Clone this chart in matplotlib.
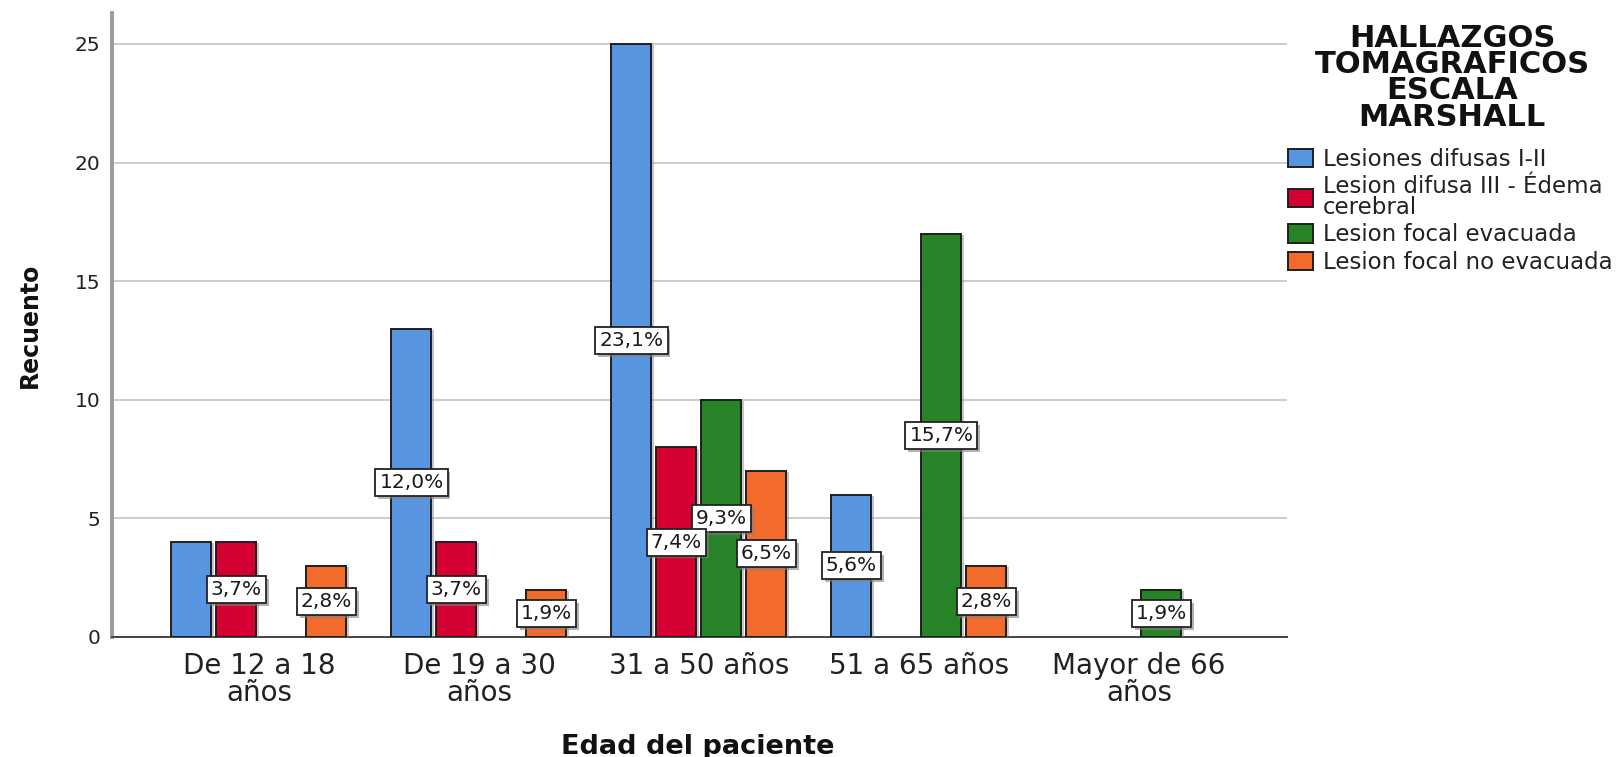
import numpy as np
import matplotlib
matplotlib.use("Agg")
import matplotlib.pyplot as plt
from matplotlib import patheffects as pe

plt.rcParams["font.family"] = ["DejaVu Sans"]

age_groups = ["De 12 a 18\naños", "De 19 a 30\naños", "31 a 50 años",
              "51 a 65 años", "Mayor de 66\naños"]
series_names = ["Lesiones difusas I-II", "Lesion difusa III - Édema\ncerebral",
                "Lesion focal evacuada", "Lesion focal no evacuada"]
legend_title = "HALLAZGOS\nTOMAGRAFICOS\nESCALA\nMARSHALL"
difusas_1_2 = [4, 13, 25, 6, 0]
difusa_3 = [4, 4, 8, 0, 0]
focal_evacuada = [0, 0, 10, 17, 2]
focal_no_evacuada = [3, 2, 7, 3, 0]
counts = [difusas_1_2, difusa_3, focal_evacuada, focal_no_evacuada]
colors = ["#5795E1", "#D40032", "#288228", "#F26A2C"]

W, H = 1624, 757
fig = plt.figure(figsize=(W / 100, H / 100), dpi=100)
ax = fig.add_axes([112 / W, 1 - 637 / H, 1175 / W, (637 - 12.6) / H])

total = sum(sum(c) for c in counts)
x = np.arange(len(age_groups))
step, width = 0.2045, 0.182
shadow = [pe.withSimplePatchShadow(offset=(2, -1), shadow_rgbFace="0.55", alpha=0.5)]

for j, (vals, col, name) in enumerate(zip(counts, colors, series_names)):
    vals = np.asarray(vals)
    keep = vals > 0
    xs = x[keep] + (j - 1.5) * step
    bars = ax.bar(xs, vals[keep], width=width, color=col, edgecolor="#1e1e1e",
                  linewidth=1.4, zorder=3, label=name)
    for b in bars:
        b.set_path_effects(shadow)

# percentage labels at mid-height; skip one that sits on an identical neighbour
for i in range(len(age_groups)):
    placed = []
    for j in reversed(range(len(counts))):
        v = counts[j][i]
        if v == 0:
            continue
        if any(abs(k - j) == 1 and abs(yv - v / 2) < 0.5 for k, yv in placed):
            continue
        placed.append((j, v / 2))
        pct = f"{v / total * 100:.1f}%".replace(".", ",")
        t = ax.text(x[i] + (j - 1.5) * step, v / 2, pct, ha="center", va="center",
                    fontsize=14.5, color="#1a1a1a", zorder=5,
                    bbox=dict(boxstyle="square,pad=0.2", fc="white", ec="#222222", lw=1.3))
        t.get_bbox_patch().set_path_effects(
            [pe.withSimplePatchShadow(offset=(2, -2), shadow_rgbFace="0.5", alpha=0.6)])

ax.set_xlim(-0.668, 4.673)
ax.set_ylim(0, 26.32)
ax.set_yticks([0, 5, 10, 15, 20, 25])
ax.set_xticks(x)
ax.set_xticklabels(age_groups, fontsize=20, color="#222222", linespacing=0.92)
ax.tick_params(axis="x", length=0, pad=11)
ax.tick_params(axis="y", length=0, pad=8.5, labelsize=14.5, labelcolor="#222222")
ax.grid(axis="y", color="#c8c8c8", linewidth=1.3, zorder=0)
ax.set_axisbelow(True)
for s in ["top", "right"]:
    ax.spines[s].set_visible(False)
ax.spines["left"].set_color("#9a9a9a")
ax.spines["left"].set_linewidth(2.8)
ax.spines["bottom"].set_color("#444444")
ax.spines["bottom"].set_linewidth(1.4)

fig.text(698 / W, 1 - 747 / H, "Edad del paciente", ha="center", va="center",
         fontsize=19.5, fontweight="bold", color="#111111")
fig.text(29.5 / W, 1 - 325 / H, "Recuento", rotation=90, ha="center", va="center",
         fontsize=17, fontweight="bold", color="#111111")

# legend title drawn separately so its spacing to the entries can be set freely
fig.text(1452 / W, 1 - 24 / H, legend_title, ha="center", va="top",
         multialignment="center", linespacing=0.88,
         fontsize=22, fontweight="bold", color="#111111")

leg = fig.legend(loc="upper left", bbox_to_anchor=(1288 / W, 1 - 148 / H),
                 frameon=False, fontsize=16.5, handlelength=1.1, handleheight=0.85,
                 handletextpad=0.42, labelspacing=0.18, borderpad=0, borderaxespad=0)
for t in leg.get_texts():
    t.set_linespacing(0.9)
    t.set_color("#222222")
for h in leg.legend_handles:
    h.set_path_effects([])

fig.savefig("out.png", dpi=100)
